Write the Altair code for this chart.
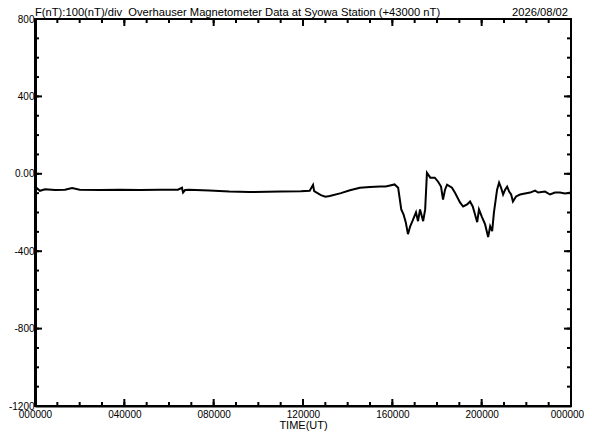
import altair as alt
import pandas as pd

# ---- data ----
hours = [0.0, 0.09, 0.22, 0.45, 0.9, 1.34, 1.66, 2.0, 2.9, 3.8, 4.7, 5.6, 6.4, 6.58, 6.63, 6.72,
         6.9, 7.8, 8.7, 9.6, 11.0, 11.9, 12.3, 12.45, 12.5, 12.8, 13.0, 13.2, 13.7, 14.1, 14.55,
         15.0, 15.45, 15.7, 15.9, 16.1, 16.26, 16.4, 16.5, 16.6, 16.7, 16.8, 16.9, 17.06, 17.15,
         17.24, 17.38, 17.47, 17.55, 17.7, 17.9, 18.05, 18.18, 18.27, 18.36, 18.45, 18.67, 18.8,
         19.03, 19.17, 19.35, 19.48, 19.6, 19.7, 19.8, 19.88, 20.0, 20.15, 20.29, 20.38, 20.47,
         20.55, 20.69, 20.78, 20.87, 20.96, 21.05, 21.14, 21.23, 21.32, 21.4, 21.54, 21.72, 21.94,
         22.17, 22.39, 22.53, 22.84, 23.06, 23.28, 23.5, 23.73, 24.0]
values = [-90, -75, -88, -80, -84, -82, -74, -82, -84, -82, -84, -82, -82, -72, -97, -84,
          -82, -86, -92, -94, -92, -90, -88, -57, -90, -110, -118, -115, -100, -85, -72,
          -68, -66, -66, -60, -55, -72, -184, -209, -250, -312, -271, -245, -199, -245,
          -184, -245, -184, 5, -20, -20, -41, -66, -133, -82, -56, -72, -97,
          -148, -169, -158, -143, -169, -209, -250, -184, -220, -260, -327, -271, -296,
          -199, -82, -46, -72, -107, -82, -66, -92, -107, -143, -117, -107, -102,
          -97, -87, -97, -92, -107, -97, -97, -102, -97]

y_major = [-1200, -800, -400, 0, 400, 800]
y_minor = list(range(-1100, 800, 100))
x_major = [0, 4, 8, 12, 16, 20, 24]
x_minor = list(range(0, 25))

title_left = "F(nT):100(nT)/div\u00a0\u00a0Overhauser Magnetometer Data at Syowa Station (+43000 nT)"
title_right = "2026/08/02"
x_title = "TIME(UT)"

W, H = 536, 387
FONT = "Liberation Sans"

line_df = pd.DataFrame({"h": hours, "v": values})
xs = alt.Scale(domain=[0, 24], nice=False, zero=False)
ys = alt.Scale(domain=[-1200, 800], nice=False, zero=False)

line = alt.Chart(line_df).mark_line(color="black", strokeWidth=2).encode(
    x=alt.X("h:Q", scale=xs, title=x_title,
            axis=alt.Axis(values=x_major, tickSize=0, grid=False, domainColor="black",
                          domainWidth=2, labelFontSize=10, labelColor="black", labelFont=FONT,
                          labelPadding=3, labelFlush=False, labelOverlap=False,
                          labelOffset={"condition": {"test": "datum.value == 24", "value": -4},
                                       "value": 0},
                          titleFont=FONT, titleFontSize=11,
                          titleFontWeight="normal", titleColor="black", titlePadding=0,
                          labelExpr="datum.value == 24 ? '000000' : (datum.value < 10 ? '0' + datum.value : '' + datum.value) + '0000'")),
    y=alt.Y("v:Q", scale=ys, title=None,
            axis=alt.Axis(values=y_major, tickSize=0, grid=False, domainColor="black",
                          domainWidth=3, labelFontSize=10, labelColor="black", labelFont=FONT,
                          labelPadding=1, labelFlush=False, labelOverlap=False,
                          labelExpr="datum.value == 0 ? '0.00' : '' + datum.value")),
)

def ydf(v):
    return pd.DataFrame({"v": v})

def xdf(v):
    return pd.DataFrame({"h": v})

layers = [line]
for vals, ln in ((y_minor, 4), (y_major, 7)):
    d = ydf(vals)
    layers.append(alt.Chart(d).mark_rule(color="black", strokeWidth=2).encode(
        y=alt.Y("v:Q", scale=ys), x=alt.value(0), x2=alt.value(ln)))
    layers.append(alt.Chart(d).mark_rule(color="black", strokeWidth=2).encode(
        y=alt.Y("v:Q", scale=ys), x=alt.value(W), x2=alt.value(W - ln)))
for vals, ln in ((x_minor, 4), (x_major, 7)):
    d = xdf(vals)
    layers.append(alt.Chart(d).mark_rule(color="black", strokeWidth=2).encode(
        x=alt.X("h:Q", scale=xs), y=alt.value(H), y2=alt.value(H - ln)))
    layers.append(alt.Chart(d).mark_rule(color="black", strokeWidth=2).encode(
        x=alt.X("h:Q", scale=xs), y=alt.value(0), y2=alt.value(ln)))

layers.append(alt.Chart(pd.DataFrame({"t": [title_left]})).mark_text(
    align="left", baseline="alphabetic", fontSize=11.2, font=FONT, color="black").encode(
    text="t:N", x=alt.value(0), y=alt.value(-3)))
layers.append(alt.Chart(pd.DataFrame({"t": [title_right]})).mark_text(
    align="right", baseline="alphabetic", fontSize=11.2, font=FONT, color="black").encode(
    text="t:N", x=alt.value(W - 3), y=alt.value(-3)))

chart = alt.layer(*layers).properties(
    width=W, height=H,
    autosize=alt.AutoSizeParams(type="none"),
    padding={"left": 27, "top": 11, "right": 13, "bottom": 26},
    background="white",
).configure_view(stroke="black", strokeWidth=2)

chart.save("out.html", embed_options={"renderer": "svg", "actions": False})
